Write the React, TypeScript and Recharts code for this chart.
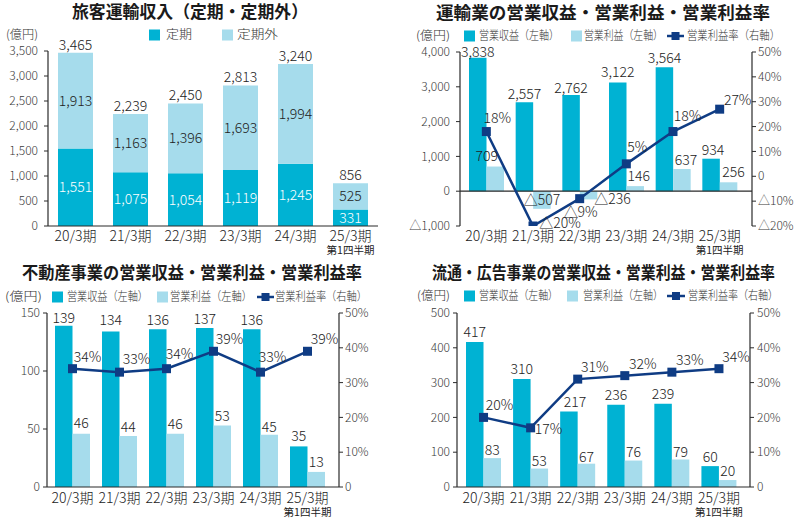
import React from 'react';
import { ComposedChart, Bar, Line, XAxis, YAxis, LabelList, ReferenceLine } from 'recharts';

// ---------- data ----------
const periods = ['20/3期', '21/3期', '22/3期', '23/3期', '24/3期', '25/3期'];
const periodSubs = ['', '', '', '', '', '第1四半期'];

const teikiValues = [1551, 1075, 1054, 1119, 1245, 331];
const teikigaiValues = [1913, 1163, 1396, 1693, 1994, 525];
const passengerTotals = [3465, 2239, 2450, 2813, 3240, 856];
const passengerTicks = [0, 500, 1000, 1500, 2000, 2500, 3000, 3500];

const transportRevenue = [3838, 2557, 2762, 3122, 3564, 934];
const transportProfit = [709, -507, -236, 146, 637, 256];
const transportMargin = [18, -20, -9, 5, 18, 27];
const transportLeftTicks = [-1000, 0, 1000, 2000, 3000, 4000];
const transportRightTicks = [-20, -10, 0, 10, 20, 30, 40, 50];

const realEstateRevenue = [139, 134, 136, 137, 136, 35];
const realEstateProfit = [46, 44, 46, 53, 45, 13];
const realEstateMargin = [34, 33, 34, 39, 33, 39];
const realEstateLeftTicks = [0, 50, 100, 150];

const retailRevenue = [417, 310, 217, 236, 239, 60];
const retailProfit = [83, 53, 67, 76, 79, 20];
const retailMargin = [20, 17, 31, 32, 33, 34];
const retailLeftTicks = [0, 100, 200, 300, 400, 500];

const percentTicks = [0, 10, 20, 30, 40, 50];

// ---------- label layout (offsets only) ----------
type Off = [number, number];
const transportRevenueOff: Off[] = [[0, 2], [0, 0], [0, 1.5], [0, -2], [0, -1.5], [2, -1]];
const transportProfitOff: Off[] = [[-8.5, -2], [0, 16.6], [24, 16.3], [3.5, -1.6], [4, -0.5], [5, -2]];
const transportMarginOff: Off[] = [[11, -13], [27, -3], [1, 13.5], [11, -16.5], [14.5, -15], [18, -9.5]];
const realEstateRevenueOff: Off[] = [[0, 1], [0, -2], [0, 0], [0, 0], [0, 0], [0, -1]];
const realEstateProfitOff: Off[] = [[0, -1.5], [0, 0.5], [0, -1], [0, 0], [0, 1.5], [0, -0.5]];
const realEstateMarginOff: Off[] = [[15, -12], [17, -13], [13, -15], [16, -12], [12, -15], [17, -12]];
const retailRevenueOff: Off[] = [[0, -0.5], [0, -0.5], [6, 0.5], [0, -0.5], [0, 0], [0, 0.3]];
const retailProfitOff: Off[] = [[0, 0], [0, 0.5], [0, 1], [0, 0], [0, 0.4], [0, -1]];
const retailMarginOff: Off[] = [[16, -12], [18, 1], [17, -12], [18, -12], [18, -12], [17, -12]];

// ---------- styles ----------
const FONT = '"Noto Sans CJK JP", "Noto Sans", sans-serif';
const DARK = '#00B2D3';
const LIGHT = '#A6DCEC';
const NAVY = '#0F3C84';
const INK = '#222222';
const TICK = '#3a3a3a';
const AXIS = '#2a2a2a';
const LIGHTW = 300;

const fmtNum = (v: number) => (v < 0 ? '△' : '') + Math.abs(Number(v)).toLocaleString('en-US');
const fmtPct = (v: number) => (Number(v) === 0 ? '0' : v < 0 ? `△${-v}%` : `${v}%`);

const passengerRows = periods.map((p, i) => ({
  period: p,
  teiki: teikiValues[i],
  teikigai: teikigaiValues[i],
  total: passengerTotals[i],
}));

const segmentRows = (rev: number[], prof: number[], mar: number[]) =>
  periods.map((p, i) => ({ period: p, revenue: rev[i], profit: prof[i], margin: mar[i] }));

// ---------- renderers ----------
const makeCategoryTick = (gap1: number, gap2: number) => (props: any) => {
  const { x, y, payload } = props;
  const i = periods.indexOf(payload.value);
  const sub = i >= 0 ? periodSubs[i] : '';
  return (
    <g>
      <text x={x} y={y + gap1} dy="0.35em" textAnchor="middle" fontSize={14} fontWeight={LIGHTW} fill={INK} fontFamily={FONT}>
        {payload.value}
      </text>
      {sub ? (
        <text x={x} y={y + gap2} dy="0.35em" textAnchor="middle" fontSize={10.5} fill={INK} fontFamily={FONT}>
          {sub}
        </text>
      ) : null}
    </g>
  );
};

const makeValueTick = (fmt: (v: number) => string, anchor: 'start' | 'end') => (props: any) => {
  const { x, y, payload } = props;
  return (
    <text x={x} y={y} dy="0.35em" textAnchor={anchor} fontSize={12} fontWeight={LIGHTW} fill={TICK} fontFamily={FONT}>
      {fmt(Number(payload.value))}
    </text>
  );
};

const barTopLabel = (offsets: Off[] | null, base: number) => (props: any) => {
  const { x, y, width, height, value, index } = props;
  const yy = Number(y);
  const hh = Number(height);
  const top = Math.min(yy, yy + hh);
  const [dx, dy] = (offsets && offsets[index]) || [0, 0];
  return (
    <text x={Number(x) + Number(width) / 2 + dx} y={top + base + dy} dy="0.35em" textAnchor="middle" fontSize={14} fontWeight={LIGHTW} fill={INK} fontFamily={FONT}>
      {fmtNum(Number(value))}
    </text>
  );
};

const barCenterLabel = (color: string) => (props: any) => {
  const { x, y, width, height, value } = props;
  return (
    <text x={Number(x) + Number(width) / 2} y={Number(y) + Number(height) / 2} dy="0.35em" textAnchor="middle" fontSize={14} fontWeight={LIGHTW} fill={color} fontFamily={FONT}>
      {fmtNum(Number(value))}
    </text>
  );
};

const pointLabel = (offsets: Off[]) => (props: any) => {
  const { x, y, value, index } = props;
  const [dx, dy] = offsets[index] || [12, -12];
  return (
    <text x={Number(x) + dx} y={Number(y) + dy} dy="0.35em" textAnchor="middle" fontSize={14} fontWeight={LIGHTW} fill={INK} fontFamily={FONT}>
      {fmtPct(Number(value))}
    </text>
  );
};

const squareDot = (props: any) => {
  const { cx, cy, index } = props;
  return <rect key={`dot-${index}`} x={cx - 4.5} y={cy - 4.5} width={9} height={9} fill={NAVY} />;
};

// ---------- charts ----------
function PassengerChart() {
  return (
    <ComposedChart
      width={400}
      height={260}
      data={passengerRows}
      margin={{ top: 51, right: 22, bottom: 4, left: 8 }}
      style={{ fontFamily: FONT }}
    >
      <XAxis
        dataKey="period"
        height={30}
        interval={0}
        tickSize={0}
        tickMargin={0}
        tickLine={false}
        axisLine={{ stroke: AXIS, strokeWidth: 1.2 }}
        tick={makeCategoryTick(10, 24.5)}
      />
      <YAxis
        width={40}
        type="number"
        domain={[0, 3500]}
        ticks={passengerTicks}
        interval={0}
        allowDataOverflow
        tickSize={4}
        tickMargin={6}
        axisLine={{ stroke: AXIS, strokeWidth: 1.2 }}
        tickLine={{ stroke: AXIS }}
        tick={makeValueTick(fmtNum, 'end')}
      />
      <Bar dataKey="teiki" stackId="a" fill={DARK} barSize={35} isAnimationActive={false}>
        <LabelList dataKey="teiki" content={barCenterLabel('#ffffff')} />
      </Bar>
      <Bar dataKey="teikigai" stackId="a" fill={LIGHT} barSize={35} isAnimationActive={false}>
        <LabelList dataKey="teikigai" content={barCenterLabel(INK)} />
        <LabelList dataKey="total" content={barTopLabel(null, -8)} />
      </Bar>
    </ComposedChart>
  );
}

type SegProps = {
  rows: any[];
  width: number;
  height: number;
  margin: { top: number; right: number; bottom: number; left: number };
  leftDomain: [number, number];
  leftTicks: number[];
  rightDomain: [number, number];
  rightTicks: number[];
  xPad: { left: number; right: number };
  showXAxisLine: boolean;
  zeroLine: boolean;
  revOff: Off[];
  profOff: Off[];
  marOff: Off[];
  revBase: number;
  profBase: number;
  gap1: number;
  gap2: number;
  leftTickMargin: number;
  rightTickMargin: number;
};

function SegmentChart(p: SegProps) {
  return (
    <ComposedChart
      width={p.width}
      height={p.height}
      data={p.rows}
      margin={p.margin}
      barGap={0}
      style={{ fontFamily: FONT }}
    >
      <XAxis
        dataKey="period"
        height={30}
        interval={0}
        padding={p.xPad}
        tickSize={0}
        tickMargin={0}
        tickLine={false}
        axisLine={p.showXAxisLine ? { stroke: AXIS, strokeWidth: 1.2 } : false}
        tick={makeCategoryTick(p.gap1, p.gap2)}
      />
      <YAxis
        yAxisId="left"
        orientation="left"
        width={40}
        type="number"
        domain={p.leftDomain}
        ticks={p.leftTicks}
        interval={0}
        allowDataOverflow
        tickSize={4}
        tickMargin={p.leftTickMargin}
        axisLine={{ stroke: AXIS, strokeWidth: 1.2 }}
        tickLine={{ stroke: AXIS }}
        tick={makeValueTick(fmtNum, 'end')}
      />
      <YAxis
        yAxisId="right"
        orientation="right"
        width={40}
        type="number"
        domain={p.rightDomain}
        ticks={p.rightTicks}
        interval={0}
        allowDataOverflow
        tickSize={4}
        tickMargin={p.rightTickMargin}
        axisLine={{ stroke: AXIS, strokeWidth: 1.2 }}
        tickLine={{ stroke: AXIS }}
        tick={makeValueTick(fmtPct, 'start')}
      />
      {p.zeroLine ? <ReferenceLine yAxisId="left" y={0} stroke={AXIS} strokeWidth={1.2} /> : null}
      <Bar yAxisId="left" dataKey="revenue" fill={DARK} barSize={17.5} isAnimationActive={false}>
        <LabelList dataKey="revenue" content={barTopLabel(p.revOff, p.revBase)} />
      </Bar>
      <Bar yAxisId="left" dataKey="profit" fill={LIGHT} barSize={17.5} isAnimationActive={false}>
        <LabelList dataKey="profit" content={barTopLabel(p.profOff, p.profBase)} />
      </Bar>
      <Line
        yAxisId="right"
        dataKey="margin"
        stroke={NAVY}
        strokeWidth={2.5}
        dot={squareDot}
        activeDot={false}
        isAnimationActive={false}
      >
        <LabelList dataKey="margin" content={pointLabel(p.marOff)} />
      </Line>
    </ComposedChart>
  );
}

// ---------- overlay (titles & legends) ----------
const LegendSq = ({ x, y, color }: { x: number; y: number; color: string }) => (
  <rect x={x} y={y - 5.5} width={11} height={11} fill={color} />
);
const LegendTxt = ({ x, y, w, t }: { x: number; y: number; w: number; t: string }) => (
  <text x={x} y={y} dy="0.35em" fontSize={12} fontWeight={LIGHTW} fill="#333" textLength={w} lengthAdjust="spacingAndGlyphs">
    {t}
  </text>
);
const LegendLine = ({ x1, x2, y }: { x1: number; x2: number; y: number }) => (
  <g>
    <line x1={x1} x2={x2} y1={y} y2={y} stroke={NAVY} strokeWidth={2.5} />
    <rect x={(x1 + x2) / 2 - 4} y={y - 4} width={8} height={8} fill={NAVY} />
  </g>
);
const Title = ({ cx, y, w, t }: { cx: number; y: number; w: number; t: string }) => (
  <text x={cx} y={y} dy="0.35em" textAnchor="middle" fontSize={17} fontWeight="bold" fill="#1a1a1a" textLength={w} lengthAdjust="spacingAndGlyphs">
    {t}
  </text>
);

function SegLegend({ y, a, b, c, d, e, f, g }: { y: number; a: [number, number]; b: number; c: [number, number]; d: number; e: [number, number]; f: [number, number]; g: [number, number] }) {
  return (
    <g>
      <LegendTxt x={a[0]} y={y} w={a[1]} t="(億円)" />
      <LegendSq x={b} y={y} color={DARK} />
      <LegendTxt x={c[0]} y={y} w={c[1]} t="営業収益（左軸）" />
      <LegendSq x={d} y={y} color={LIGHT} />
      <LegendTxt x={e[0]} y={y} w={e[1]} t="営業利益（左軸）" />
      <LegendLine x1={f[0]} x2={f[1]} y={y} />
      <LegendTxt x={g[0]} y={y} w={g[1]} t="営業利益率（右軸）" />
    </g>
  );
}

function Overlay() {
  return (
    <svg width={795} height={521} style={{ position: 'absolute', left: 0, top: 0, pointerEvents: 'none', fontFamily: FONT }}>
      <Title cx={190} y={12} w={236} t="旅客運輸収入（定期・定期外）" />
      <Title cx={603} y={13} w={334} t="運輸業の営業収益・営業利益・営業利益率" />
      <Title cx={192} y={273} w={340} t="不動産事業の営業収益・営業利益・営業利益率" />
      <Title cx={603.5} y={273} w={343} t="流通・広告事業の営業収益・営業利益・営業利益率" />

      <LegendTxt x={6} y={35} w={32} t="(億円)" />
      <LegendSq x={149} y={35} color={DARK} />
      <LegendTxt x={166} y={35} w={26} t="定期" />
      <LegendSq x={222} y={35} color={LIGHT} />
      <LegendTxt x={237} y={35} w={41} t="定期外" />

      <SegLegend y={36} a={[416, 34]} b={464} c={[479, 80]} d={571} e={[584, 79]} f={[667, 684]} g={[687, 93]} />
      <SegLegend y={297} a={[5, 37]} b={52} c={[67, 81]} d={157} e={[170, 82]} f={[257, 274]} g={[275, 92]} />
      <SegLegend y={296} a={[417, 33]} b={464} c={[479, 79]} d={567} e={[583, 80]} f={[667, 685]} g={[688, 90]} />
    </svg>
  );
}

export default function App() {
  return (
    <div style={{ position: 'absolute', left: 0, top: 0, width: 795, height: 521, background: '#fff', fontFamily: FONT, overflow: 'hidden' }}>
      <div style={{ position: 'absolute', left: 0, top: 0 }}>
        <PassengerChart />
      </div>
      <div style={{ position: 'absolute', left: 400, top: 0 }}>
        <SegmentChart
          rows={segmentRows(transportRevenue, transportProfit, transportMargin)}
          width={395}
          height={260}
          margin={{ top: 52, right: 3, bottom: 4, left: 20 }}
          leftDomain={[-1000, 4000]}
          leftTicks={transportLeftTicks}
          rightDomain={[-20, 50]}
          rightTicks={transportRightTicks}
          xPad={{ left: 3, right: 9 }}
          showXAxisLine={false}
          zeroLine={true}
          revOff={transportRevenueOff}
          profOff={transportProfitOff}
          marOff={transportMarginOff}
          revBase={-8}
          profBase={-8}
          gap1={10}
          gap2={24}
          leftTickMargin={6}
          rightTickMargin={2}
        />
      </div>
      <div style={{ position: 'absolute', left: 0, top: 260 }}>
        <SegmentChart
          rows={segmentRows(realEstateRevenue, realEstateProfit, realEstateMargin)}
          width={400}
          height={261}
          margin={{ top: 53, right: 21, bottom: 4, left: 7 }}
          leftDomain={[0, 150]}
          leftTicks={realEstateLeftTicks}
          rightDomain={[0, 50]}
          rightTicks={percentTicks}
          xPad={{ left: 2, right: 8 }}
          showXAxisLine={true}
          zeroLine={false}
          revOff={realEstateRevenueOff}
          profOff={realEstateProfitOff}
          marOff={realEstateMarginOff}
          revBase={-9}
          profBase={-9}
          gap1={10.7}
          gap2={25.7}
          leftTickMargin={3}
          rightTickMargin={2}
        />
      </div>
      <div style={{ position: 'absolute', left: 400, top: 260 }}>
        <SegmentChart
          rows={segmentRows(retailRevenue, retailProfit, retailMargin)}
          width={395}
          height={261}
          margin={{ top: 53, right: 5, bottom: 4, left: 17 }}
          leftDomain={[0, 500]}
          leftTicks={retailLeftTicks}
          rightDomain={[0, 50]}
          rightTicks={percentTicks}
          xPad={{ left: 3, right: 7.5 }}
          showXAxisLine={true}
          zeroLine={false}
          revOff={retailRevenueOff}
          profOff={retailProfitOff}
          marOff={retailMarginOff}
          revBase={-9.5}
          profBase={-8}
          gap1={11}
          gap2={25.7}
          leftTickMargin={3}
          rightTickMargin={3}
        />
      </div>
      <Overlay />
    </div>
  );
}
